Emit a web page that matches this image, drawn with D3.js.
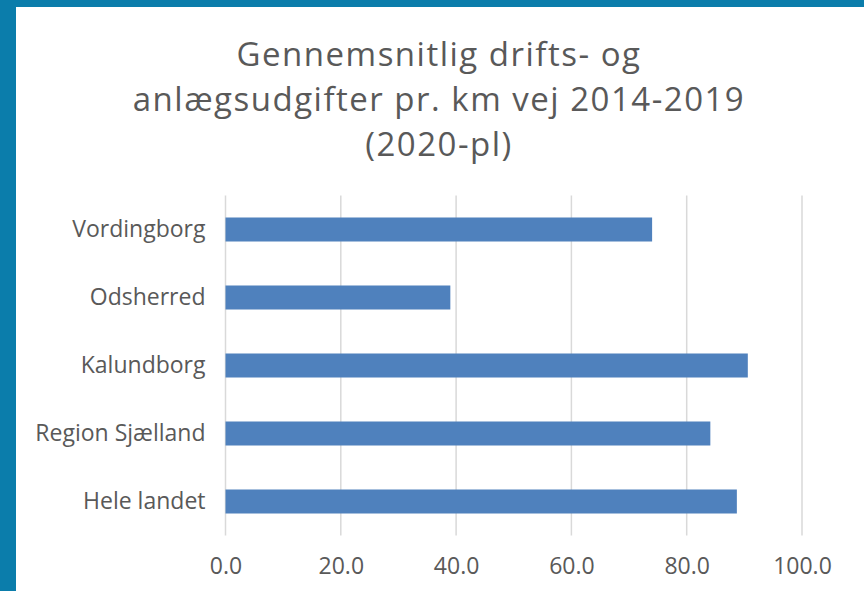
<!DOCTYPE html>
<html>
<head>
<meta charset="utf-8">
<script src="https://cdn.jsdelivr.net/npm/d3@7"></script>
<style>
  body { margin: 0; background: #0b7dab; }
  #chart-area { position: absolute; left: 16px; top: 7px; width: 848px; height: 584px; background: #fff; }
  text { font-family: "Open Sans", sans-serif; fill: #595959; }
</style>
</head>
<body>
<div id="chart-area"></div>
<script>
// data
var categories = ["Vordingborg", "Odsherred", "Kalundborg", "Region Sjælland", "Hele landet"];
var values = [74.0, 39.0, 90.6, 84.1, 88.7];
var ticks = [0, 20, 40, 60, 80, 100];
var titleLines = ["Gennemsnitlig drifts- og", "anlægsudgifter pr. km vej 2014-2019", "(2020-pl)"];

var ox = 16, oy = 7;  // offset of the white panel
var margin = { left: 225.5 - ox, top: 195.5 - oy };
var width = 802 - 225.5,
    height = 535.5 - 195.5;

var svg = d3.select("#chart-area")
    .append("svg")
        .attr("width", 848)
        .attr("height", 584);

// title
svg.append("g")
    .selectAll("text")
    .data(titleLines)
    .enter()
    .append("text")
        .attr("x", 439 - ox)
        .attr("y", function(d, i){ return 66 - oy + i * 45; })
        .attr("text-anchor", "middle")
        .attr("font-size", "33px")
        .attr("letter-spacing", "1.5px")
        .text(function(d){ return d; });

var g = svg.append("g")
    .attr("transform", "translate(" + margin.left + "," + margin.top + ")");

var x = d3.scaleLinear()
    .domain([0, 100])
    .range([0, width]);

var y = d3.scaleBand()
    .domain(categories)
    .range([0, height])
    .paddingInner(0.647)
    .paddingOuter(0.3235);

// gridlines
g.selectAll(".grid")
    .data(ticks)
    .enter()
    .append("line")
        .attr("class", "grid")
        .attr("x1", function(d){ return x(d); })
        .attr("x2", function(d){ return x(d); })
        .attr("y1", 0)
        .attr("y2", height)
        .attr("stroke", "#d9d9d9")
        .attr("stroke-width", 1.5);

var x_axis = d3.axisBottom(x)
    .tickValues(ticks)
    .tickFormat(d3.format(".1f"))
    .tickSize(0)
    .tickPadding(22);

var xa = g.append("g")
    .attr("transform", "translate(0," + height + ")")
    .call(x_axis);
xa.select(".domain").remove();
xa.selectAll("text")
    .attr("font-size", "23px")
    .attr("font-family", "Open Sans, sans-serif")
    .attr("fill", "#595959");

var y_axis = d3.axisLeft(y)
    .tickSize(0)
    .tickPadding(20);

var ya = g.append("g")
    .call(y_axis);
ya.select(".domain").remove();
ya.selectAll("text")
    .attr("font-size", "23px")
    .attr("font-family", "Open Sans, sans-serif")
    .attr("fill", "#595959");

// bars
g.selectAll(".bar")
    .data(categories)
    .enter()
    .append("rect")
        .attr("class", "bar")
        .attr("x", x(0))
        .attr("y", function(d){ return y(d); })
        .attr("width", function(d, i){ return x(values[i]) - x(0); })
        .attr("height", y.bandwidth())
        .attr("fill", "#4f81bd");
</script>
</body>
</html>
